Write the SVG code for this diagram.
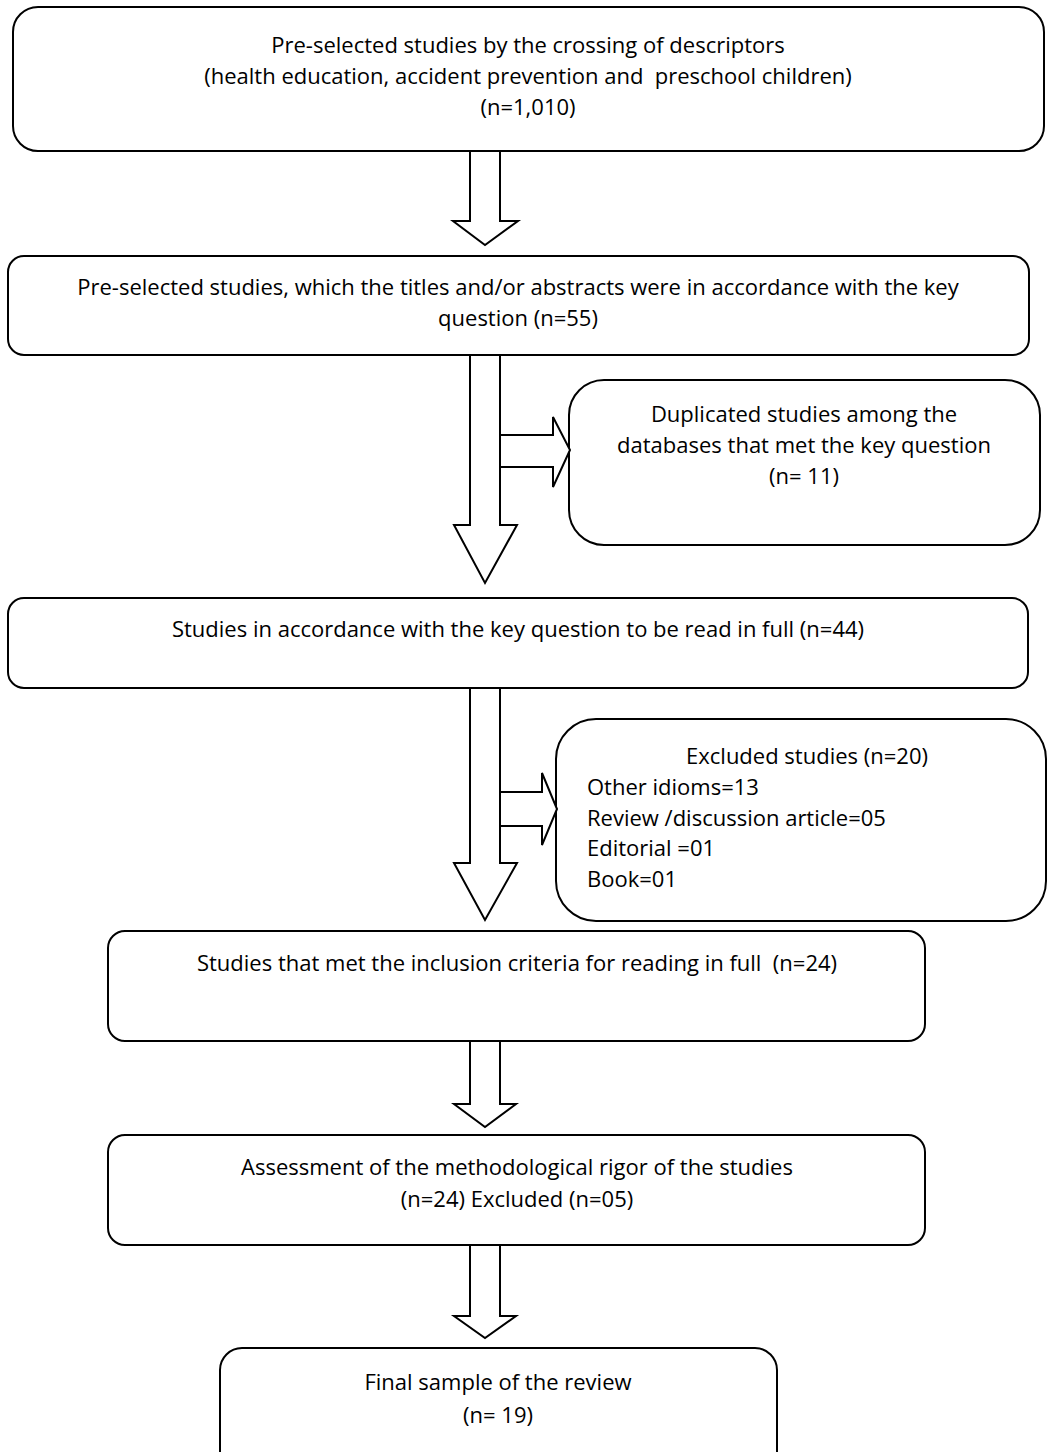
<svg xmlns="http://www.w3.org/2000/svg" width="1048" height="1452" viewBox="0 0 1048 1452">
<style>
.box{fill:#fff;stroke:#000;stroke-width:2}
.arr{fill:#fff;stroke:#000;stroke-width:2;stroke-linejoin:miter}
text{font-family:"Open Sans","Liberation Sans",sans-serif;font-size:22px;fill:#000}
.c{text-anchor:middle}
</style>
<rect width="1048" height="1452" fill="#fff"/>
<g id="n1"><rect class="box" x="13" y="7" width="1031" height="144" rx="25"/>
<text class="c" x="528" y="53">Pre-selected studies by the crossing of descriptors</text>
<text class="c" x="528" y="84" xml:space="preserve">(health education, accident prevention and  preschool children)</text>
<text class="c" x="528" y="115">(n=1,010)</text></g>
<g id="n2"><rect class="box" x="8" y="256" width="1021" height="99" rx="16"/>
<text class="c" x="518" y="295">Pre-selected studies, which the titles and/or abstracts were in accordance with the key</text>
<text class="c" x="518" y="326">question (n=55)</text></g>
<g id="n3"><rect class="box" x="569" y="380" width="471" height="165" rx="35"/>
<text class="c" x="804" y="422">Duplicated studies among the</text>
<text class="c" x="804" y="453">databases that met the key question</text>
<text class="c" x="804" y="484">(n= 11)</text></g>
<g id="n4"><rect class="box" x="8" y="598" width="1020" height="90" rx="16"/>
<text class="c" x="518" y="637">Studies in accordance with the key question to be read in full (n=44)</text></g>
<g id="n5"><rect class="box" x="556" y="719" width="490" height="202" rx="40"/>
<text class="c" x="807" y="764">Excluded studies (n=20)</text>
<text x="587" y="795">Other idioms=13</text>
<text x="587" y="826">Review /discussion article=05</text>
<text x="587" y="856">Editorial =01</text>
<text x="587" y="887">Book=01</text></g>
<g id="n6"><rect class="box" x="108" y="931" width="817" height="110" rx="17"/>
<text class="c" x="517" y="971" xml:space="preserve">Studies that met the inclusion criteria for reading in full  (n=24)</text></g>
<g id="n7"><rect class="box" x="108" y="1135" width="817" height="110" rx="17"/>
<text class="c" x="517" y="1175">Assessment of the methodological rigor of the studies</text>
<text class="c" x="517" y="1207">(n=24) Excluded (n=05)</text></g>
<g id="n8"><rect class="box" x="220" y="1348" width="557" height="130" rx="22"/>
<text class="c" x="498" y="1390">Final sample of the review</text>
<text class="c" x="498" y="1423">(n= 19)</text></g>
<g id="connectors">
<polygon class="arr" points="470,151 500,151 500,221 518,221 485,245 453,221 470,221"/>
<polygon class="arr" points="470,355 500,355 500,525 517,525 485,583 454,525 470,525"/>
<polygon class="arr" points="500,435 553,435 553,417 570,450 553,487 553,467 500,467"/>
<polygon class="arr" points="470,688 500,688 500,863 517,863 485,920 454,863 470,863"/>
<polygon class="arr" points="500,792 542,792 542,773 557,809 542,845 542,826 500,826"/>
<polygon class="arr" points="470,1041 500,1041 500,1104 516,1104 485,1127 454,1104 470,1104"/>
<polygon class="arr" points="470,1245 500,1245 500,1316 516,1316 485,1338 454,1316 470,1316"/>
</g>
</svg>
